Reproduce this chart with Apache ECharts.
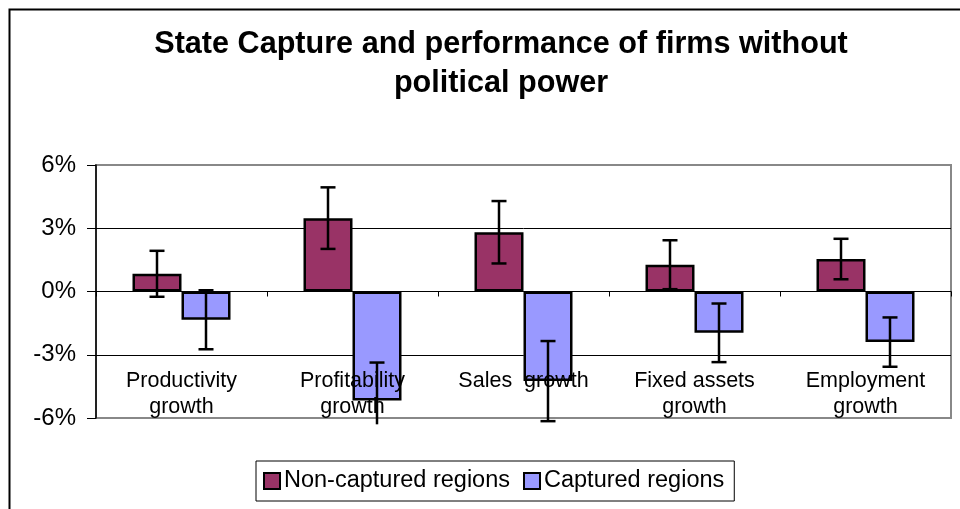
<!DOCTYPE html>
<html>
<head>
<meta charset="utf-8">
<script src="https://cdn.jsdelivr.net/npm/echarts@6/dist/echarts.min.js"></script>
<style>
html,body{margin:0;padding:0;background:#fff;}
#c{width:960px;height:509px;}
</style>
</head>
<body>
<div id="c"></div>
<script>
// ---- data ----
const categories = ['Productivity\ngrowth', 'Profitability\ngrowth', 'Sales  growth', 'Fixed assets\ngrowth', 'Employment\ngrowth'];
const seriesNames = ['Non-captured regions', 'Captured regions'];
const nonCaptured = [0.84, 3.48, 2.81, 1.27, 1.54];
const nonCapturedErr = [1.09, 1.46, 1.48, 1.16, 0.96];
const captured = [-1.34, -5.17, -4.25, -1.96, -2.40];
const capturedErr = [1.40, 1.80, 1.90, 1.39, 1.17];
const yTicks = [-6, -3, 0, 3, 6];

// ---- chart ----
const FONT = '"Liberation Sans", Arial, sans-serif';
const BAR_W = 49;
const CLIP_LO = -6.3;

const chart = echarts.init(document.getElementById('c'), null, {renderer: 'canvas'});

function errItems(vals, errs, side) {
  return vals.map((v, i) => [i, v, errs[i], side]);
}

function renderErr(params, api) {
  const i = api.value(0), v = api.value(1), e = api.value(2), side = api.value(3);
  let lo = v - e, hi = v + e;
  const clippedLo = lo < CLIP_LO;
  if (clippedLo) lo = CLIP_LO;
  const pc = api.coord([i, v]);
  const cx = pc[0] + side * BAR_W / 2;
  const yHi = api.coord([i, hi])[1];
  const yLo = api.coord([i, lo])[1];
  const cap = 7.5;
  const st = {stroke: '#000', lineWidth: 2.5};
  const children = [
    {type: 'line', shape: {x1: cx, y1: yHi, x2: cx, y2: yLo}, style: st},
    {type: 'line', shape: {x1: cx - cap, y1: yHi, x2: cx + cap, y2: yHi}, style: st}
  ];
  if (!clippedLo) children.push({type: 'line', shape: {x1: cx - cap, y1: yLo, x2: cx + cap, y2: yLo}, style: st});
  return {type: 'group', children};
}

chart.setOption({
  animation: false,
  backgroundColor: '#fff',
  textStyle: {fontFamily: FONT},
  title: {
    text: 'State Capture and performance of firms without\npolitical power',
    left: 496, top: 20, textAlign: 'center',
    textStyle: {fontFamily: FONT, fontWeight: 'bold', fontSize: 30.6, lineHeight: 39, color: '#000'}
  },
  graphic: [{
    type: 'rect', left: 7, top: 7, silent: true,
    shape: {x: 0, y: 0, width: 1000, height: 1000},
    style: {fill: 'none', stroke: '#000', lineWidth: 2}
  }],
  legend: {
    data: seriesNames,
    left: 256, top: 461,
    padding: [8, 10, 8, 7],
    itemGap: 13,
    itemWidth: 16, itemHeight: 16,
    borderColor: '#000', borderWidth: 1,
    textStyle: {fontFamily: FONT, fontSize: 23.5, color: '#000', padding: [0, 0, 0, -1]},
    icon: 'rect'
  },
  grid: {left: 96, right: 9, top: 165, bottom: 91, show: true, borderColor: '#888', borderWidth: 2, backgroundColor: '#fff'},
  xAxis: [{
    type: 'category', data: categories,
    axisLine: {onZero: true, lineStyle: {color: '#000', width: 1}},
    axisTick: {show: true, length: 5, lineStyle: {color: '#000'}},
    axisLabel: {show: false},
    z: 1
  }, {
    type: 'category', data: categories, position: 'bottom',
    axisLine: {show: false}, axisTick: {show: false},
    axisLabel: {
      margin: -50, fontFamily: FONT, fontSize: 21.5, lineHeight: 26, color: '#000',
      interval: 0, align: 'center', verticalAlign: 'top'
    },
    z: 3
  }],
  yAxis: {
    type: 'value', min: yTicks[0], max: yTicks[yTicks.length - 1], interval: 3,
    axisLine: {show: true, lineStyle: {color: '#000', width: 1.5}},
    axisTick: {show: true, inside: false, length: 9, lineStyle: {color: '#000'}},
    axisLabel: {margin: 20, fontFamily: FONT, fontSize: 24, color: '#000', formatter: v => v + '%'},
    splitLine: {show: true, lineStyle: {color: ['#888', '#000', '#000', '#000', '#888'], width: 1}}
  },
  series: [{
    name: seriesNames[0], type: 'bar', data: nonCaptured, barWidth: BAR_W, barGap: '0%',
    itemStyle: {color: '#993366', borderColor: '#000', borderWidth: 2.5}, z: 2
  }, {
    name: seriesNames[1], type: 'bar', data: captured, barWidth: BAR_W, barGap: '0%',
    itemStyle: {color: '#9999FF', borderColor: '#000', borderWidth: 2.5}, z: 2
  }, {
    type: 'custom', renderItem: renderErr, data: errItems(nonCaptured, nonCapturedErr, -1),
    clip: false, z: 5, silent: true, encode: {x: 0, y: 1}
  }, {
    type: 'custom', renderItem: renderErr, data: errItems(captured, capturedErr, 1),
    clip: false, z: 5, silent: true, encode: {x: 0, y: 1}
  }]
});
</script>
</body>
</html>
